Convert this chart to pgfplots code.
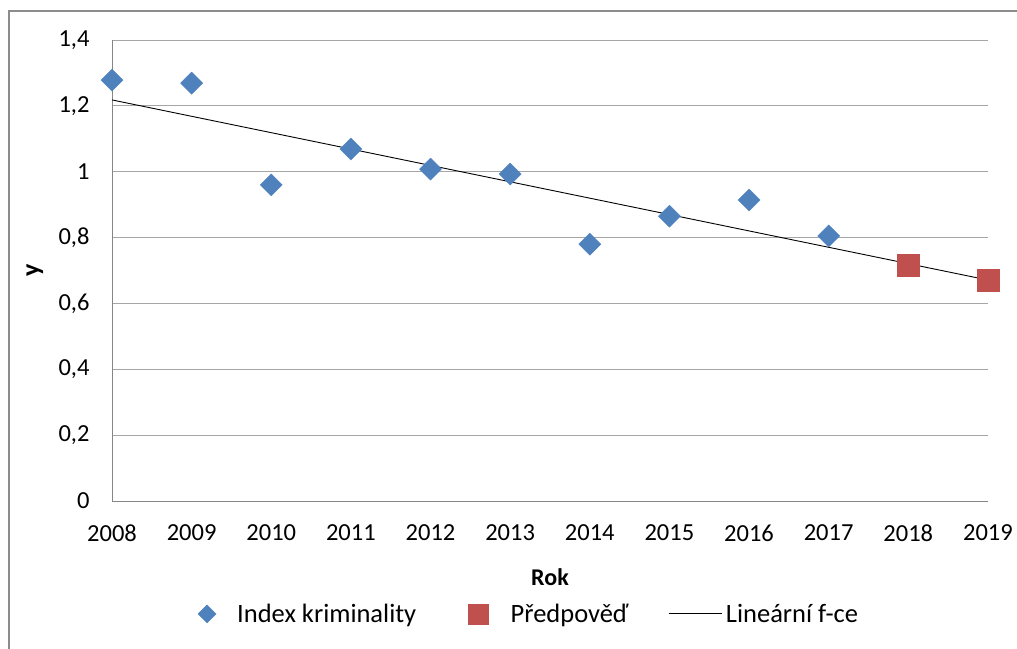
\documentclass[border=0pt]{standalone}
\usepackage{pgfplots}
\pgfplotsset{compat=1.18}
\usepackage{fontspec}
\setmainfont{Carlito}
\definecolor{ser1}{HTML}{4F81BD}
\definecolor{ser2}{HTML}{C0504D}
\definecolor{gridc}{HTML}{A6A6A6}
\definecolor{axc}{HTML}{868686}
\definecolor{framec}{HTML}{8C8C8C}
\begin{document}
\begin{tikzpicture}
\useasboundingbox (-112pt,-147pt) rectangle (905pt,501pt);
\draw[framec, line width=2.5pt] (-103pt,-160pt) -- (-103pt,490pt) -- (920pt,490pt);
\begin{axis}[
  scale only axis,
  width=876pt, height=461pt,
  xmin=2008, xmax=2019,
  ymin=0, ymax=1.4,
  xtick={2008,2009,...,2019},
  ytick={0,0.2,...,1.4},
  axis x line*=bottom,
  axis y line*=left,
  axis line style={axc, line width=0.9pt, -},
  major tick length=0pt,
  ymajorgrids,
  grid style={gridc, line width=0.9pt},
  tick label style={font=\fontsize{24.5}{28}\selectfont},
  /pgf/number format/assume math mode=true,
  /pgf/number format/use comma,
  /pgf/number format/1000 sep={},
  xticklabel style={/pgf/number format/1000 sep={}, yshift=-20pt},
  yticklabel style={xshift=-19pt},
  yticklabel={\pgfmathprintnumber[fixed, precision=1, use comma]{\tick}},
  xlabel={\textbf{Rok}},
  ylabel={\textbf{y}},
  xlabel style={at={(axis description cs:0.5,-0.165)}, anchor=center, font=\fontsize{24}{28}\selectfont},
  ylabel style={at={(axis description cs:-0.088,0.5)}, anchor=center, font=\fontsize{26}{30}\selectfont},
  legend columns=3,
  legend style={draw=none, fill=none, at={(axis description cs:0.476,-0.245)}, anchor=center,
    font=\fontsize{26.5}{30}\selectfont,
    /tikz/column 1/.style={column sep=19pt},
    /tikz/column 2/.style={column sep=50pt},
    /tikz/column 3/.style={column sep=20pt},
    /tikz/column 4/.style={column sep=38pt},
    /tikz/column 5/.style={column sep=2pt}},
  clip=false,
]
\addplot[only marks, mark=square*, mark size=7.8pt, color=ser1, mark options={rotate=45, fill=ser1, draw=ser1},
  legend image code/.code={\path[fill=ser1] (0pt,-9pt) -- (9pt,0pt) -- (0pt,9pt) -- (-9pt,0pt) -- cycle;}]
  coordinates {(2008,1.278) (2009,1.269) (2010,0.960) (2011,1.069) (2012,1.008) (2013,0.993) (2014,0.780) (2015,0.865) (2016,0.914) (2017,0.805)};
\addlegendentry{Index kriminality}
\addplot[only marks, mark=square*, mark size=11pt, color=ser2, mark options={fill=ser2, draw=ser2},
  legend image code/.code={\path[fill=ser2] (-10pt,-10pt) rectangle (10pt,10pt);}]
  coordinates {(2018,0.717) (2019,0.671)};
\addlegendentry{Předpověď}
\addplot[black, line width=0.9pt, mark=none,
  legend image code/.code={\draw[black, line width=0.9pt] (0pt,0pt) -- (53pt,0pt);}]
  coordinates {(2008,1.218) (2019,0.671)};
\addlegendentry{Lineární f-ce}
\end{axis}
\end{tikzpicture}
\end{document}
